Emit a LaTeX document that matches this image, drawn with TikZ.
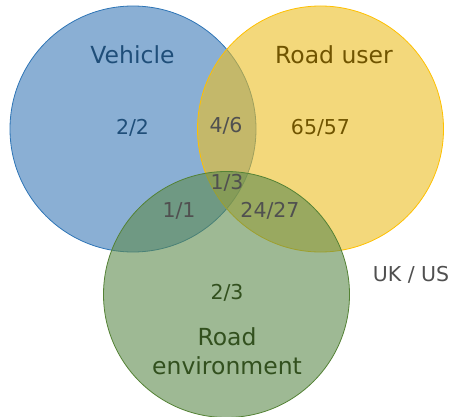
\documentclass[tikz,border=0pt]{standalone}
\usepackage{fontspec}
\setmainfont{DejaVu Sans}
\usepackage{tikz}
\usetikzlibrary{calc}

\definecolor{vehblue}{RGB}{60,122,183}
\definecolor{vehedge}{RGB}{46,117,182}
\definecolor{vehtext}{RGB}{31,78,121}
\definecolor{useryellow}{RGB}{235,190,35}
\definecolor{useredge}{RGB}{255,192,0}
\definecolor{usertext}{RGB}{112,84,0}
\definecolor{envgreen}{RGB}{93,138,77}
\definecolor{envedge}{RGB}{84,130,53}
\definecolor{envtext}{RGB}{50,80,30}
\definecolor{numgray}{RGB}{80,80,80}

\begin{document}
\begin{tikzpicture}[x=1pt, y=-1pt, align=center,
    set/.style={circle, minimum size=246pt, inner sep=0pt, fill opacity=0.6, line width=0.8pt},
    title/.style={font=\fontsize{23.5}{27}\selectfont},
    count/.style={font=\fontsize{20.5}{24}\selectfont}]
  \useasboundingbox (0,0) rectangle (452,417);

  % the three sets
  \node[set, draw=vehedge, fill=vehblue]      (vehicle)   at (133,129)   {};
  \node[set, draw=useredge, fill=useryellow]  (road_user) at (320.5,129) {};
  \node[set, draw=envedge, fill=envgreen]     (road_env)  at (226.5,294.5) {};

  % titles
  \node[title, text=vehtext]  (vehicle_t)   at (132.5,55) {Vehicle};
  \node[title, text=usertext] (road_user_t) at (334,55)   {Road user};
  \node[title, text=envtext]  (road_env_t)  at (227,351.5)
    {Road\\[2pt]environment};

  % counts
  \node[count, text=vehtext]  (v_only)   at (132.5,128) {2/2};
  \node[count, text=usertext] (u_only)   at (320.5,128) {65/57};
  \node[count, text=envtext]  (e_only)   at (227,293)   {2/3};
  \node[count, text=numgray]  (v_u)      at (226,126)   {4/6};
  \node[count, text=numgray]  (v_u_e)    at (227,183)   {1/3};
  \node[count, text=numgray]  (v_e)      at (179,211)   {1/1};
  \node[count, text=numgray]  (u_e)      at (270,211)   {24/27};

  % legend
  \node[count, text=numgray]  (legend)   at (411,275)   {UK / US};
\end{tikzpicture}
\end{document}
